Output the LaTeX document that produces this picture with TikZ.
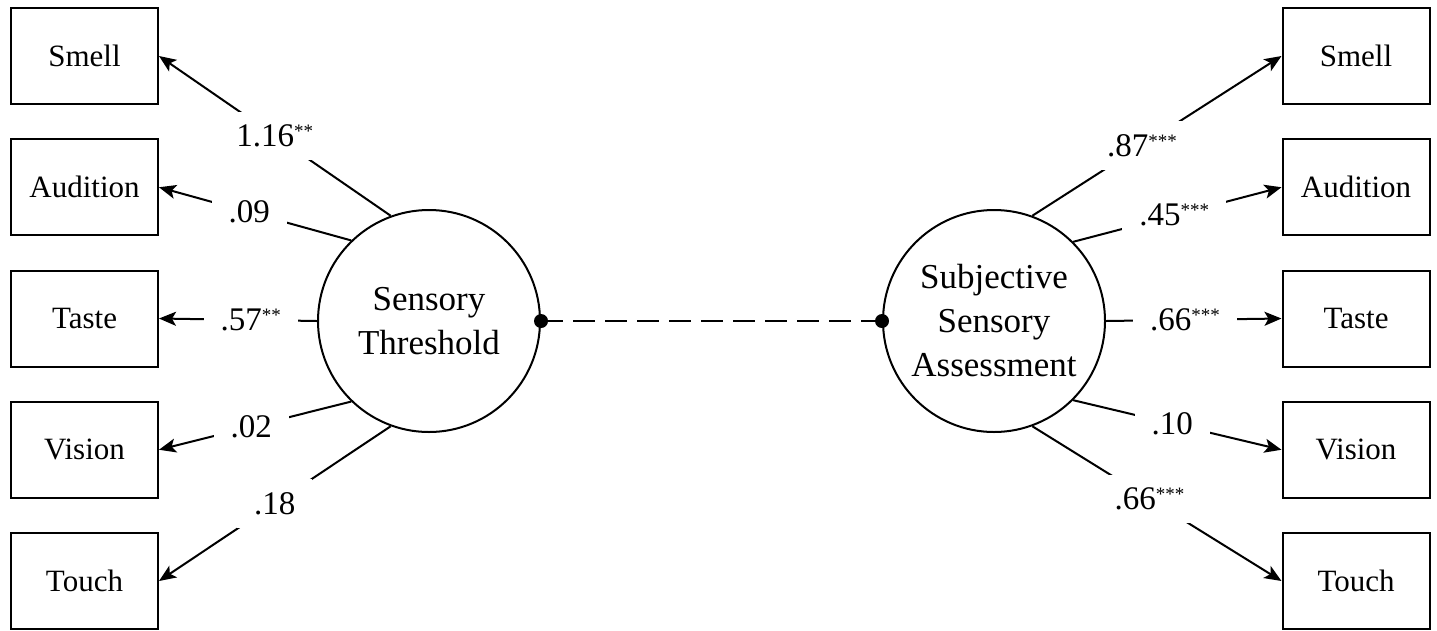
\documentclass[tikz,border=0pt]{standalone}
\usepackage{fontspec}
\setmainfont{Liberation Serif}
\usetikzlibrary{arrows.meta}

\newcommand{\sigmark}[1]{\raisebox{9pt}{\fontsize{19}{19}\selectfont #1}}

\begin{document}
\begin{tikzpicture}[x=1pt,y=-1pt,
    sensebox/.style={draw, line width=2pt, minimum width=147pt, minimum height=96pt, inner sep=0pt, font=\fontsize{31}{36}\selectfont},
    latent/.style={draw, circle, line width=2pt, minimum size=222pt, inner sep=0pt, align=center, font=\fontsize{35}{44}\selectfont},
    coef/.style={fill=white, inner xsep=17pt, inner ysep=13pt, font=\fontsize{33}{36}\selectfont},
    load/.style={line width=2pt, -{Stealth[length=17pt,width=14pt,inset=4pt]}},
    corr/.style={line width=2pt, dash pattern=on 22pt off 10pt}]

    \useasboundingbox (0,0) rectangle (1437,630);

    % Latent factors
    \node[latent] (thr) at (429,321) {Sensory\\Threshold};
    \node[latent] (ssa) at (994,321) {Subjective\\Sensory\\Assessment};

    % Indicators
    \foreach \sense [count=\i] in {Smell,Audition,Taste,Vision,Touch} {
        \node[sensebox] (L\i) at (84.5, {56+131.25*(\i-1)}) {\sense};
        \node[sensebox] (R\i) at (1356, {56+131.25*(\i-1)}) {\sense};
    }

    % Loadings, left
    \foreach \ang/\lbl/\p [count=\i] in {110/{1.16\sigmark{**}}/0.5, 134/.09/0.53, 180/{.57\sigmark{**}}/0.42, 226/.02/0.52, 250/.18/0.5} {
        \draw[load] (thr.\ang) -- node[coef, pos=\p] {\lbl} (L\i.east);
    }

    % Loadings, right
    \foreach \ang/\lbl/\p [count=\i] in {70/{.87\sigmark{***}}/0.44, 45/{.45\sigmark{***}}/0.485, 0/{.66\sigmark{***}}/0.45, 315/.10/0.475, 290/{.66\sigmark{***}}/0.47} {
        \draw[load] (ssa.\ang) -- node[coef, pos=\p] {\lbl} (R\i.west);
    }

    % Correlation
    \draw[corr] (thr.east) -- (ssa.west);
    \fill (thr.east) circle (7pt);
    \fill (ssa.west) circle (7pt);
\end{tikzpicture}
\end{document}
